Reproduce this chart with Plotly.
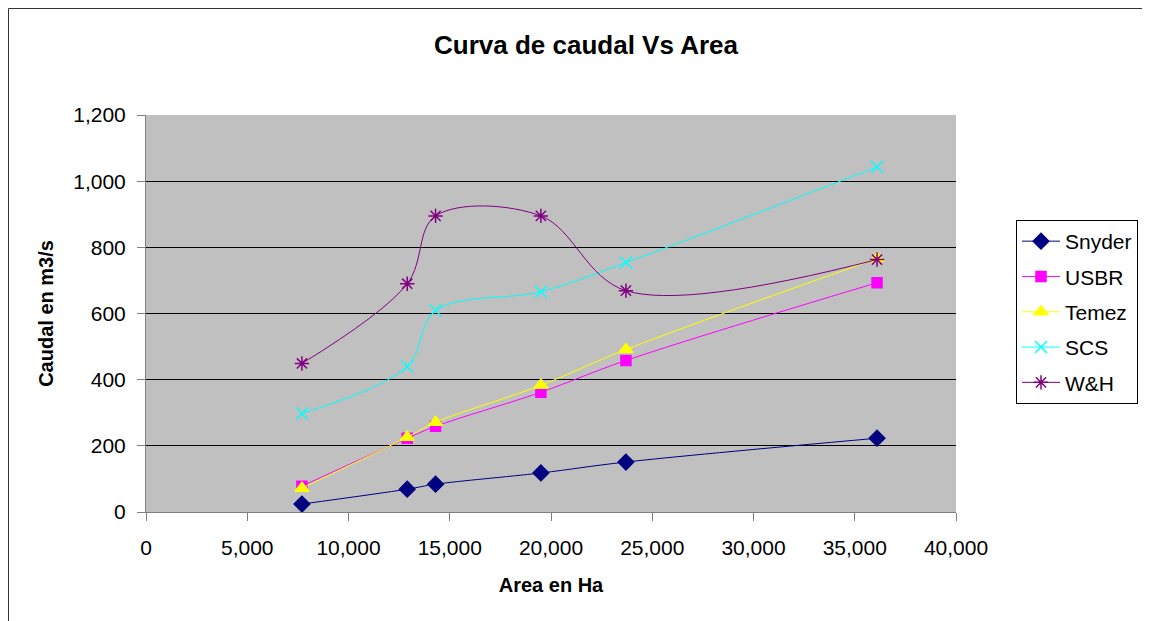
import plotly.graph_objects as go

area = [7700, 12900, 14300, 19500, 23700, 36100]
snyder = [24, 69, 84, 118, 151, 223]
usbr = [78, 223, 259, 362, 458, 693]
temez = [72, 226, 271, 383, 491, 766]
scs = [298, 440, 609, 666, 754, 1043]
wh = [449, 690, 895, 895, 669, 763]

series = [
    ("Snyder", snyder, "#000080", "diamond", 12),
    ("USBR", usbr, "#FF00FF", "square", 10),
    ("Temez", temez, "#FFFF00", "triangle-up", 12),
    ("SCS", scs, "#00FFFF", "x-thin-open", 12),
    ("W&H", wh, "#800080", "asterisk-open", 12),
]

fig = go.Figure()
for name, vals, color, sym, size in series:
    fig.add_trace(go.Scatter(
        x=area, y=vals, name=name, mode="lines+markers",
        line=dict(color=color, width=1, shape="spline", smoothing=1.0),
        marker=dict(symbol=sym, size=size, color=color,
                    line=dict(color=color, width=1.5)),
        legendgroup=name,
    ))

OFF = 8  # page offset of the plot div
W, H = 1142, 613
L, T = 146 - OFF, 115 - OFF
R = W - (956 - OFF)
B = H - (512 - OFF)
pw = W - L - R
ph = H - T - B

def px(x):
    return (x - OFF - L) / pw

def py(y):
    return 1 - (y - OFF - T) / ph

fig.update_layout(
    width=W, height=H,
    margin=dict(l=L, r=R, t=T, b=B, pad=0),
    paper_bgcolor="white",
    plot_bgcolor="#C0C0C0",
    font=dict(family="Liberation Sans, Arial", size=21, color="black"),
    showlegend=True,
    legend=dict(
        x=px(1016), y=py(220), xanchor="left", yanchor="top",
        bordercolor="black", borderwidth=1, bgcolor="white",
        font=dict(size=21), tracegroupgap=5, itemwidth=38,
    ),
    xaxis=dict(
        range=[0, 40000], tickvals=[0, 5000, 10000, 15000, 20000, 25000, 30000, 35000, 40000],
        tickformat=",d", showgrid=False, zeroline=False,
        showline=True, linecolor="#808080", linewidth=1,
        ticks="outside", ticklen=8, tickcolor="#808080",
        ticklabelstandoff=9,
        title=dict(text="<b>Area en Ha</b>", font=dict(size=20), standoff=19),
    ),
    yaxis=dict(
        range=[0, 1200], tickvals=[0, 200, 400, 600, 800, 1000, 1200],
        tickformat=",d", showgrid=True, gridcolor="black", gridwidth=1,
        zeroline=False,
        showline=True, linecolor="#808080", linewidth=1,
        ticks="outside", ticklen=8, tickcolor="#808080",
        ticklabelstandoff=7,
        title=dict(text="<b>Caudal en m3/s</b>", font=dict(size=20), standoff=14),
    ),
    annotations=[dict(
        text="<b>Curva de caudal Vs Area</b>", xref="paper", yref="paper",
        x=px(586), y=py(45), xanchor="center", yanchor="middle",
        showarrow=False, font=dict(size=26),
    )],
    shapes=[dict(
        type="rect", xref="paper", yref="paper",
        x0=px(8.5), y0=py(640), x1=px(1170), y1=py(8.5),
        line=dict(color="#333333", width=1), fillcolor="rgba(0,0,0,0)", layer="below",
    )],
)

fig.write_html("out.html")
